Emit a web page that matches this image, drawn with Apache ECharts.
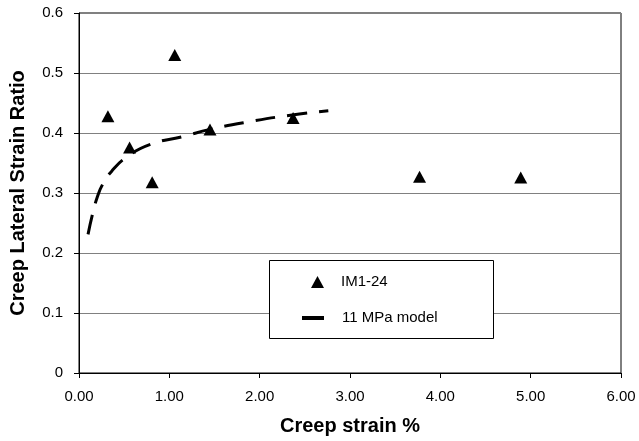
<!DOCTYPE html>
<html>
<head>
<meta charset="utf-8">
<script src="https://cdn.jsdelivr.net/npm/echarts@6/dist/echarts.min.js"></script>
<style>html,body{margin:0;padding:0;background:#fff}#c{width:639px;height:441px}</style>
</head>
<body>
<div id="c"></div>
<script>
var measuredStrain = [0.32, 0.56, 0.81, 1.06, 1.45, 2.37, 3.77, 4.89];
var measuredRatio  = [0.428, 0.376, 0.318, 0.530, 0.406, 0.425, 0.327, 0.326];
var modelStrain = [0.10, 0.15, 0.20, 0.26, 0.36, 0.53, 0.79, 1.15, 1.45, 1.89, 2.36, 2.76];
var modelRatio  = [0.231, 0.265, 0.292, 0.314, 0.336, 0.360, 0.381, 0.394, 0.406, 0.419, 0.430, 0.437];
var xTicks = [0, 1, 2, 3, 4, 5, 6];
var yTicks = [0, 0.1, 0.2, 0.3, 0.4, 0.5, 0.6];

var font = 'Liberation Sans, Arial, sans-serif';
var chart = echarts.init(document.getElementById('c'), null, {renderer: 'canvas'});
chart.setOption({
  animation: false,
  backgroundColor: '#fff',
  grid: {left: 79, right: 18, top: 13, bottom: 64, show: true, borderColor: '#000', borderWidth: 1},
  xAxis: {
    type: 'value', min: xTicks[0], max: xTicks[xTicks.length - 1], interval: 1,
    name: 'Creep strain %', nameLocation: 'middle', nameGap: 43,
    nameTextStyle: {fontFamily: font, fontSize: 20, fontWeight: 'bold', color: '#000'},
    axisLine: {lineStyle: {color: '#000', width: 1}},
    axisTick: {show: true, inside: false, length: 5, lineStyle: {color: '#000'}},
    axisLabel: {fontFamily: font, fontSize: 15, color: '#000', margin: 16, formatter: function (v) { return v.toFixed(2); }},
    splitLine: {show: false}
  },
  yAxis: {
    type: 'value', min: yTicks[0], max: yTicks[yTicks.length - 1], interval: 0.1,
    name: 'Creep Lateral Strain Ratio', nameLocation: 'middle', nameGap: 51,
    nameTextStyle: {fontFamily: font, fontSize: 20, fontWeight: 'bold', color: '#000'},
    axisLine: {lineStyle: {color: '#000', width: 1}},
    axisTick: {show: true, inside: false, length: 5, lineStyle: {color: '#000'}},
    axisLabel: {fontFamily: font, fontSize: 15, color: '#000', margin: 16, formatter: function (v) { return v === 0 ? '0' : v.toFixed(1); }},
    splitLine: {show: true, lineStyle: {color: '#808080', width: 1}}
  },
  graphic: [{
    type: 'rect', left: 269, top: 260, z: 10,
    shape: {width: 224, height: 78},
    style: {fill: '#fff', stroke: '#000', lineWidth: 1}
  }],
  legend: [
    {
      orient: 'vertical', left: 311, top: 273.5, padding: 0, z: 20,
      itemWidth: 13, itemHeight: 12,
      textStyle: {fontFamily: font, fontSize: 15, color: '#000', padding: [0, 0, 0, 12], lineHeight: 17},
      data: [{name: 'IM1-24', icon: 'triangle', itemStyle: {color: '#000', opacity: 1}}]
    },
    {
      orient: 'vertical', left: 302, top: 309.5, padding: 0, z: 20,
      itemWidth: 22, itemHeight: 4,
      textStyle: {fontFamily: font, fontSize: 15, color: '#000', padding: [0, 0, 0, 13], lineHeight: 17},
      data: [{name: '11 MPa model', icon: 'rect', itemStyle: {color: '#000', opacity: 1}}]
    }
  ],
  series: [
    {
      name: 'IM1-24', type: 'scatter', symbol: 'triangle', symbolSize: [13, 12],
      itemStyle: {color: '#000', opacity: 1},
      data: measuredStrain.map(function (x, i) { return [x, measuredRatio[i]]; }),
      z: 3
    },
    {
      name: '11 MPa model', type: 'line', smooth: true, showSymbol: false, symbol: 'none',
      itemStyle: {color: '#000'},
      lineStyle: {color: '#000', width: 3, type: [20, 12]},
      data: modelStrain.map(function (x, i) { return [x, modelRatio[i]]; }),
      z: 2
    }
  ]
});
</script>
</body>
</html>
